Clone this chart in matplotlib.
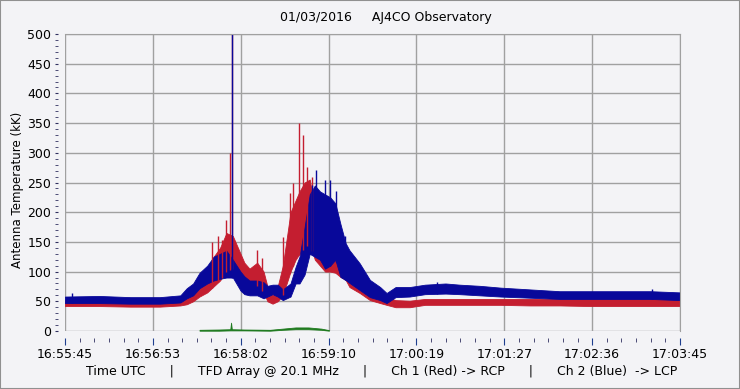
import numpy as np
import matplotlib
matplotlib.use("Agg")
import matplotlib.pyplot as plt
from matplotlib.patches import Rectangle

# seconds after 16:55:45
t = [0, 27, 51, 74, 90, 95, 100, 105, 111, 116, 121, 126, 131, 137, 140, 144, 150,
     155, 158, 162, 166, 170, 176, 180, 183, 187, 191, 195, 199, 203, 207, 211, 215,
     219, 222, 230, 238, 246, 251, 258, 269, 281, 297, 308, 324, 340, 363, 386, 410,
     433, 457, 480]
red_lo = [42, 42, 41, 41, 43, 45, 50, 58, 65, 75, 85, 100, 105, 85, 78, 72, 75,
          65, 50, 46, 50, 60, 100, 120, 130, 140, 148, 120, 110, 100, 100, 98, 91,
          86, 74, 64, 52, 47, 44, 40, 40, 44, 44, 44, 44, 44, 43, 43, 42,
          42, 42, 42]
red_hi = [52, 52, 51, 52, 54, 57, 62, 80, 95, 125, 140, 165, 160, 130, 115, 105, 115,
          100, 75, 60, 75, 110, 200, 220, 235, 250, 255, 205, 185, 165, 160, 148, 125,
          118, 98, 86, 74, 64, 57, 52, 51, 54, 54, 54, 54, 54, 54, 54, 55,
          55, 56, 54]
blue_lo = [47, 47, 46, 46, 48, 55, 60, 72, 80, 85, 88, 90, 90, 68, 62, 60, 60,
           55, 58, 62, 58, 52, 58, 80, 80, 95, 130, 125, 120, 105, 110, 120, 91,
           86, 81, 69, 57, 52, 47, 57, 58, 62, 63, 62, 60, 58, 56, 54, 54,
           54, 54, 52]
blue_hi = [58, 59, 57, 57, 60, 72, 80, 98, 110, 125, 130, 135, 120, 100, 92, 85, 85,
           82, 76, 78, 78, 70, 80, 108, 125, 175, 230, 245, 235, 230, 225, 215, 180,
           148, 136, 114, 86, 74, 64, 74, 74, 78, 80, 78, 76, 73, 70, 67, 67,
           67, 67, 65]

red_spike_t = [114.7, 119.4, 122.5, 125.7, 128.8, 130.0, 149.9, 153.8, 170.1, 175.6,
               178.0, 182.6, 185.8, 188.9, 192.8]
red_spike_v = [150, 160, 153, 187, 300, 500, 136, 123, 158, 232, 250, 350, 330, 276, 260]
blue_spike_t = [5.5, 130.3, 192.8, 195.9, 202.9, 206.8, 211.5, 218.5, 290.5, 458.0]
blue_spike_v = [64, 500, 245, 271, 254, 254, 235, 160, 82, 70]

green_t = [105, 120, 129, 129.6, 130.2, 140, 160, 170, 180, 190, 200, 206]
green_lo = [0.5, 0.5, 1, 1, 1, 1, 0.5, 2, 3, 3, 2, 0.5]
green_hi = [2, 2.5, 3, 14, 3, 2.5, 2, 4, 6, 6, 4, 1.5]

tick_labels = ["16:55:45", "16:56:53", "16:58:02", "16:59:10",
               "17:00:19", "17:01:27", "17:02:36", "17:03:45"]

bg = "#f3f3f6"
grid = "#a0a0a0"
red = "#c41e30"
blue = "#08089a"
green = "#1f7a1f"

fig = plt.figure(figsize=(7.4, 3.89), dpi=100, facecolor=bg)
ax = fig.add_axes([65 / 740, 1 - 331 / 389, 615 / 740, 297 / 389])
ax.set_facecolor(bg)

ax.fill_between(green_t, green_lo, green_hi, color=green, lw=0.6)

ax.fill_between(t, red_lo, red_hi, color=red, lw=0.6)
ax.vlines(red_spike_t, np.interp(red_spike_t, t, red_lo), red_spike_v, color=red, lw=1.0)
ax.fill_between(t, blue_lo, blue_hi, color=blue, lw=0.6)
ax.vlines(blue_spike_t, np.interp(blue_spike_t, t, blue_lo), blue_spike_v, color=blue, lw=1.0)

ax.set_xlim(0, 480)
ax.set_ylim(0, 500)
ax.set_xticks(np.linspace(0, 480, 8))
ax.set_xticklabels(tick_labels)
ax.set_xticks(np.linspace(0, 480, 43), minor=True)
ax.set_yticks(np.arange(0, 501, 50))
ax.set_yticks(np.arange(0, 501, 10), minor=True)
ax.grid(True, color=grid, lw=1)
ax.set_axisbelow(True)

for s in ["top", "right"]:
    ax.spines[s].set_color(grid)
for s in ["bottom", "left"]:
    ax.spines[s].set_position(("outward", 5))
    ax.spines[s].set_visible(False)

ax.tick_params(axis="y", which="both", direction="out", length=2, color="#303060",
               labelsize=9, pad=3)
ax.tick_params(axis="x", which="minor", direction="out", length=3, color="#303060")
ax.tick_params(axis="x", which="major", direction="out", length=5, color="#1f3f8f",
               labelsize=9, pad=2)

fig.text(386 / 740, 1 - 18 / 389, "01/03/2016     AJ4CO Observatory",
         ha="center", va="center", fontsize=9)
fig.text(382 / 740, 1 - 371 / 389,
         "Time UTC      |      TFD Array @ 20.1 MHz      |      Ch 1 (Red) -> RCP      |      Ch 2 (Blue)  -> LCP",
         ha="center", va="center", fontsize=9)
fig.text(18 / 740, 1 - 190 / 389, "Antenna Temperature (kK)", rotation=90,
         ha="center", va="center", fontsize=8.5)

fig.patches.append(Rectangle((0, 0), 1, 1, transform=fig.transFigure, fill=False,
                             edgecolor="#909090", lw=1.5))

plt.savefig("out.png", dpi=100, facecolor=bg)
